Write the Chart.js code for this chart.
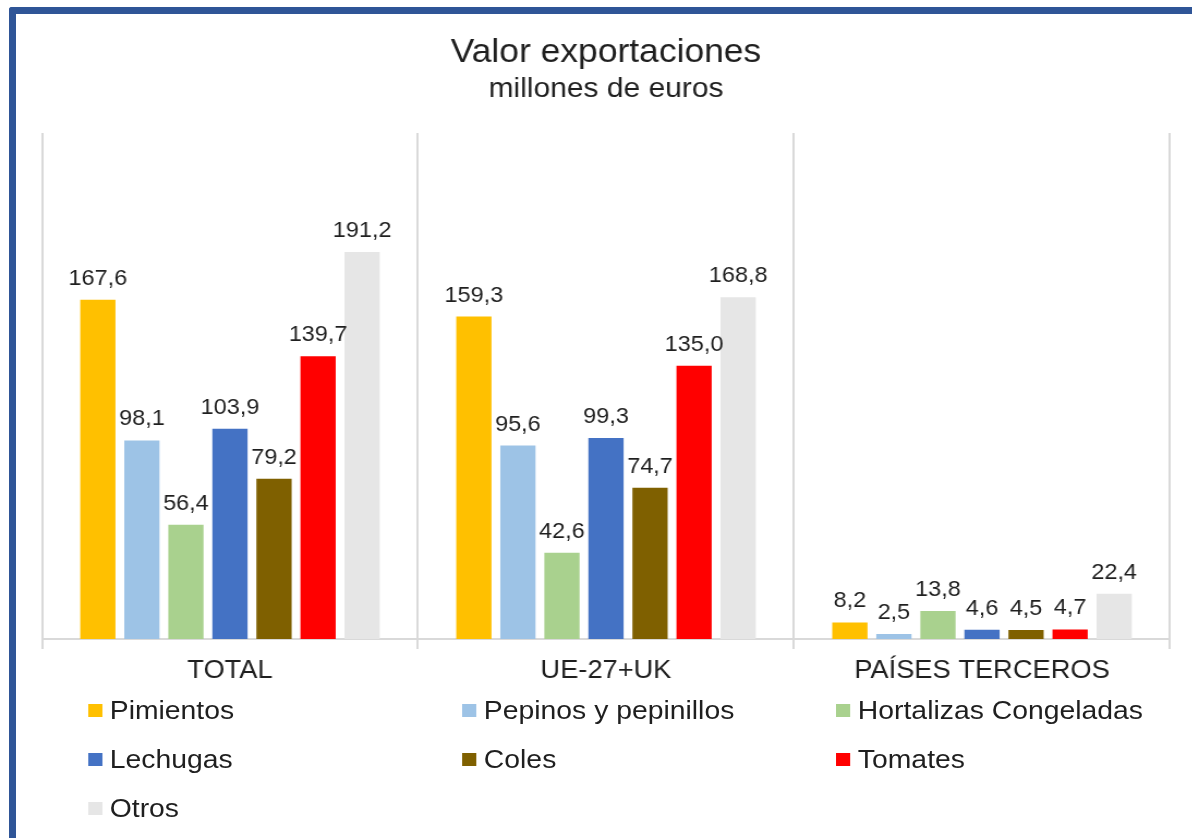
<!DOCTYPE html>
<html>
<head>
<meta charset="utf-8">
<script src="https://cdn.jsdelivr.net/npm/chart.js@4.4.1/dist/chart.umd.min.js"></script>
<style>
  html, body { margin: 0; padding: 0; background: #fff; overflow: hidden; }
  body { width: 1192px; height: 838px; position: relative; }
  .frame {
    position: absolute; left: 9px; top: 7px; width: 1200px; height: 850px;
    border-top: 7px solid #2F5597; border-left: 7px solid #2F5597;
    border-top-left-radius: 3px; box-sizing: border-box;
  }
  /* the source picture is a bit wider than tall, so stretch the drawing */
  .stage {
    position: absolute; left: 0; top: 0; width: 1094px; height: 838px;
    transform: scaleX(1.09); transform-origin: 0 0;
  }
  #chart { position: absolute; left: 0; top: 0; }
  .legend-item {
    position: absolute; display: flex; align-items: center;
    font-family: "Liberation Sans", Arial, sans-serif; font-size: 26px; color: #1f1f1f;
    line-height: 1; white-space: nowrap;
  }
  .legend-item span.box { width: 13px; height: 13px; margin-right: 7px; display: inline-block; }
</style>
</head>
<body>
<div class="frame"></div>
<div class="stage">
  <canvas id="chart" width="1094" height="693"></canvas>
  <div id="legend"></div>
</div>
<script>
const categories = ["TOTAL", "UE-27+UK", "PAÍSES TERCEROS"];
const seriesNames = ["Pimientos", "Pepinos y pepinillos", "Hortalizas Congeladas", "Lechugas", "Coles", "Tomates", "Otros"];
const seriesColors = ["#FFC000", "#9DC3E6", "#A9D18E", "#4472C4", "#7F6000", "#FF0000", "#E6E6E6"];

const pimientos = [167.6, 159.3, 8.2];
const pepinos = [98.1, 95.6, 2.5];
const hortalizas = [56.4, 42.6, 13.8];
const lechugas = [103.9, 99.3, 4.6];
const coles = [79.2, 74.7, 4.5];
const tomates = [139.7, 135.0, 4.7];
const otros = [191.2, 168.8, 22.4];

const seriesValues = [pimientos, pepinos, hortalizas, lechugas, coles, tomates, otros];

const FONT = '"Liberation Sans", Arial, sans-serif';
const fmt = v => v.toFixed(1).replace(".", ",");

// value labels above each bar
const barLabels = {
    id: "barLabels",
    afterDatasetsDraw(chart) {
        const ctx = chart.ctx;
        ctx.save();
        ctx.font = "21.5px " + FONT;
        ctx.fillStyle = "#1f1f1f";
        ctx.textAlign = "center";
        ctx.textBaseline = "alphabetic";
        chart.data.datasets.forEach((ds, i) => {
            chart.getDatasetMeta(i).data.forEach((bar, j) => {
                ctx.fillText(fmt(ds.data[j]), bar.x, bar.y - 15);
            });
        });
        ctx.restore();
    }
};

const chart = new Chart(document.getElementById("chart"), {
    type: "bar",
    data: {
        labels: categories,
        datasets: seriesNames.map((name, i) => ({
            label: name,
            data: seriesValues[i],
            backgroundColor: seriesColors[i],
            borderWidth: 0,
            categoryPercentage: 0.82,
            barPercentage: 0.8
        }))
    },
    options: {
        responsive: false,
        animation: false,
        layout: { padding: { left: 38.5, right: 20.6, top: 0, bottom: 0 } },
        plugins: {
            legend: { display: false },
            tooltip: { enabled: false },
            title: {
                display: true,
                text: "Valor exportaciones",
                color: "#1f1f1f",
                font: { family: FONT, size: 32.5, weight: "normal", lineHeight: 1 },
                padding: { top: 37, bottom: 0 }
            },
            subtitle: {
                display: true,
                text: "millones de euros",
                color: "#1f1f1f",
                font: { family: FONT, size: 27.5, weight: "normal", lineHeight: 1 },
                padding: { top: 6, bottom: 30 }
            }
        },
        scales: {
            x: {
                grid: { offset: true, color: "#d9d9d9", lineWidth: 2, tickLength: 10, drawTicks: true },
                border: { color: "#d9d9d9", width: 2 },
                ticks: { color: "#1f1f1f", padding: 7, font: { family: FONT, size: 25 } }
            },
            y: { display: false, min: 0, max: 250 }
        }
    },
    plugins: [barLabels]
});

// legend laid out in three columns like the original
const legendCols = [80.7, 423.9, 767];
const legendRows = [710, 759, 808];
const legend = document.getElementById("legend");
chart.data.datasets.forEach((ds, i) => {
    const item = document.createElement("div");
    item.className = "legend-item";
    item.style.left = legendCols[i % 3] + "px";
    item.style.top = (legendRows[Math.floor(i / 3)] - 13) + "px";
    item.style.height = "26px";
    item.innerHTML = '<span class="box" style="background:' + ds.backgroundColor + '"></span>' + ds.label;
    legend.appendChild(item);
});
</script>
</body>
</html>
